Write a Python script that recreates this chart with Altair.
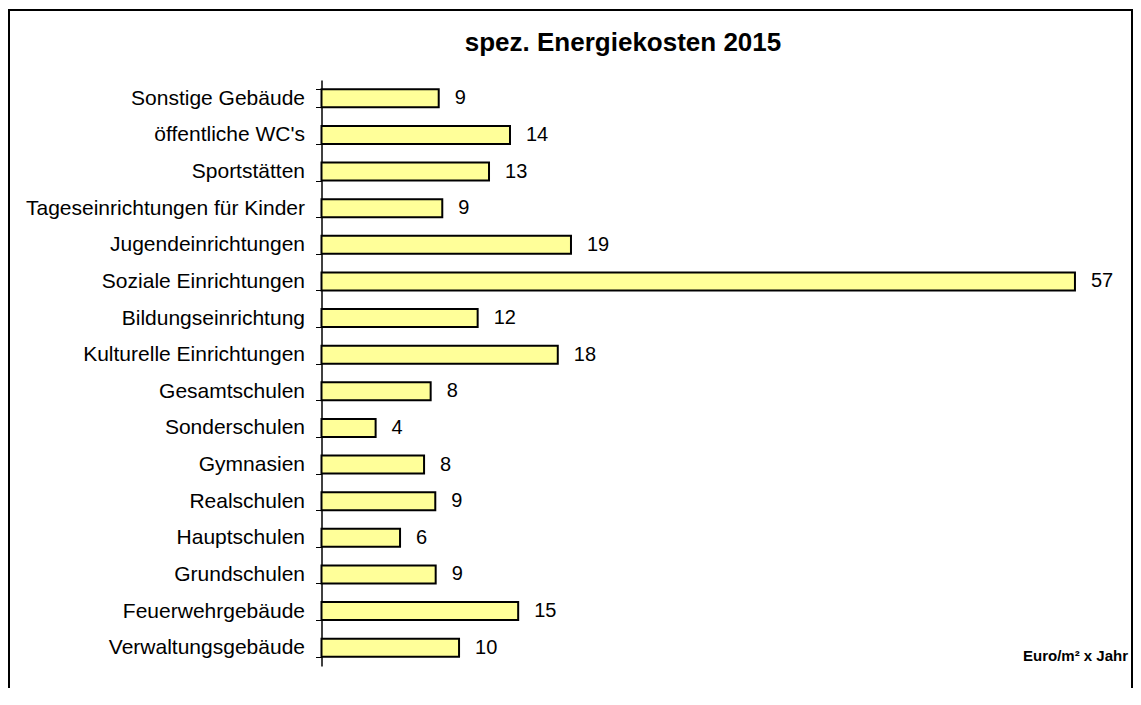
import altair as alt
import pandas as pd

categories = [
    "Sonstige Gebäude", "öffentliche WC's", "Sportstätten",
    "Tageseinrichtungen für Kinder", "Jugendeinrichtungen",
    "Soziale Einrichtungen", "Bildungseinrichtung",
    "Kulturelle Einrichtungen", "Gesamtschulen", "Sonderschulen",
    "Gymnasien", "Realschulen", "Hauptschulen", "Grundschulen",
    "Feuerwehrgebäude", "Verwaltungsgebäude",
]
values = [8.88, 14.28, 12.69, 9.15, 18.9, 57.08, 11.83, 17.9,
          8.27, 4.1, 7.77, 8.62, 5.95, 8.65, 14.9, 10.42]

title_text = "spez. Energiekosten 2015"
unit_text = "Euro/m² x Jahr"

df = pd.DataFrame({"cat": categories, "val": values})

FONT = "Liberation Sans"

x = alt.X("val:Q", axis=None, scale=alt.Scale(domain=[0, 60], nice=False))
y = alt.Y(
    "cat:N", sort=categories, title=None,
    scale=alt.Scale(paddingInner=0.51, paddingOuter=0.255),
    axis=alt.Axis(
        tickBand="extent", tickSize=6, tickColor="black", tickWidth=1,
        domainColor="black", domainWidth=1.5, labelPadding=11, labelLimit=0,
        labelFont=FONT, labelFontSize=21, labelColor="black", grid=False,
    ),
)

bars = alt.Chart(df).mark_bar(
    fill="#FFFF99", stroke="black", strokeWidth=2
).encode(x=x, y=y)

labels = alt.Chart(df).mark_text(
    align="left", baseline="middle", dx=16, font=FONT, fontSize=20, color="black"
).encode(x=x, y=y, text=alt.Text("val:Q", format=".0f"))

border = alt.Chart(df).mark_rect(
    fill=None, stroke="black", strokeWidth=2
).encode(
    x=alt.value(-312.5), x2=alt.value(810.5), y=alt.value(-70), y2=alt.value(640)
)

title = alt.Chart(pd.DataFrame({"t": [title_text]})).mark_text(
    align="center", baseline="alphabetic", font=FONT, fontSize=26,
    fontWeight="bold", color="black"
).encode(x=alt.value(301.5), y=alt.value(-29), text="t:N")

unit = alt.Chart(pd.DataFrame({"t": [unit_text]})).mark_text(
    align="right", baseline="middle", font=FONT, fontSize=15,
    fontWeight="bold", color="black"
).encode(x=alt.value(806.5), y=alt.value(576), text="t:N")

chart = alt.layer(border, bars, labels, title, unit).properties(
    width=792, height=586,
    padding={"left": 313.5, "top": 72, "right": 19.5, "bottom": 22},
    autosize=alt.AutoSizeParams(type="none"),
).configure_view(stroke=None)

chart.save("out.html", embed_options={"renderer": "svg", "actions": False})
